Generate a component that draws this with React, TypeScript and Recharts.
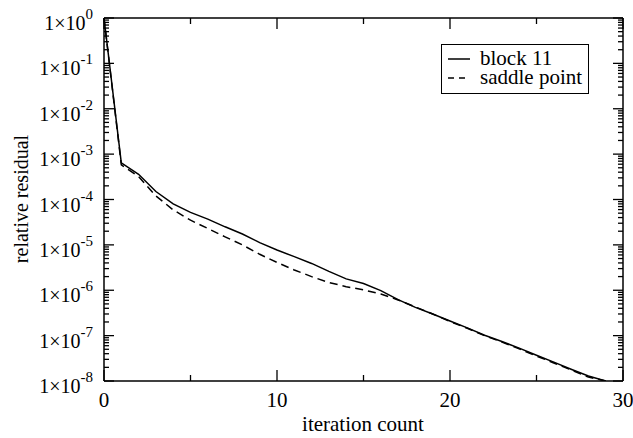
import React from 'react';
import { LineChart, Line, XAxis, YAxis, Legend } from 'recharts';

// residual history
const ITERATIONS = [0, 1, 2, 3, 4, 5, 6, 7, 8, 9, 10, 11, 12, 13, 14, 15, 16, 17, 18, 19, 20, 21, 22, 23, 24, 25, 26, 27, 28, 29];
const BLOCK_11 = [
  1, 6.4e-4, 3.6e-4, 1.5e-4, 8e-5, 5.2e-5, 3.7e-5, 2.5e-5, 1.74e-5, 1.12e-5,
  7.7e-6, 5.5e-6, 3.9e-6, 2.6e-6, 1.78e-6, 1.41e-6, 9.8e-7, 6.2e-7, 4.2e-7, 3e-7,
  2.1e-7, 1.48e-7, 1.02e-7, 7.4e-8, 5.3e-8, 3.7e-8, 2.6e-8, 1.82e-8, 1.29e-8, 1e-8,
];
const SADDLE_POINT = [
  1, 5.8e-4, 3.2e-4, 1.2e-4, 5.9e-5, 3.5e-5, 2.3e-5, 1.5e-5, 1.0e-5, 6.2e-6,
  4.1e-6, 2.8e-6, 2.0e-6, 1.48e-6, 1.2e-6, 1.02e-6, 8.3e-7, 6.1e-7, 4.3e-7, 3e-7,
  2.05e-7, 1.45e-7, 1e-7, 7.2e-8, 5.1e-8, 3.55e-8, 2.5e-8, 1.75e-8, 1.22e-8, 1e-8,
];

const X_TICKS = [0, 5, 10, 15, 20, 25, 30];
const X_LABELS = [0, 10, 20, 30];
const Y_DECADES = [1e-8, 1e-7, 1e-6, 1e-5, 1e-4, 1e-3, 1e-2, 1e-1, 1];
const MINOR_STEPS = [2, 3, 4, 5, 6, 7, 8, 9];

const SERIES = [
  { key: 'block11', name: 'block 11', dash: undefined as string | undefined },
  { key: 'saddle', name: 'saddle point', dash: '8 5' },
];

const FONT = "'Liberation Serif', 'Times New Roman', serif";
const TICK_W = 1.3;
const TICK_COLOR = '#000';

const data = ITERATIONS.map((it, i) => ({
  iter: it,
  block11: BLOCK_11[i],
  saddle: SADDLE_POINT[i],
}));

// major decades plus the 2..9 minor ticks in between
const Y_TICKS = [
  ...Y_DECADES.slice(0, -1).flatMap(d => [d, ...MINOR_STEPS.map(m => m * d)]),
  Y_DECADES[Y_DECADES.length - 1],
];

const isDecade = (v: number) => Math.abs(Math.log10(v) - Math.round(Math.log10(v))) < 1e-6;

function LeftTick(props: any) {
  const x = Number(props.x);
  const y = Number(props.y);
  const v = props.payload.value;
  const major = isDecade(v);
  const exp = Math.round(Math.log10(v));
  return (
    <g>
      <path d={`M${x},${y}h${major ? 10 : 5}`} stroke={TICK_COLOR} strokeWidth={TICK_W} fill="none" />
      {major && (
        <text x={x - 11} y={y + 12} textAnchor="end" fontFamily={FONT} fontSize={20} fill="#000">
          1×10
          <tspan dy={-11} fontSize={15}>{String(exp)}</tspan>
        </text>
      )}
    </g>
  );
}

function RightTick(props: any) {
  const x = Number(props.x);
  const y = Number(props.y);
  const major = isDecade(props.payload.value);
  return <path d={`M${x},${y}h${major ? -10 : -5}`} stroke={TICK_COLOR} strokeWidth={TICK_W} fill="none" />;
}

function BottomTick(props: any) {
  const x = Number(props.x);
  const y = Number(props.y);
  const major = X_LABELS.includes(props.payload.value);
  return (
    <g>
      <path d={`M${x},${y}v${major ? -11 : -6}`} stroke={TICK_COLOR} strokeWidth={TICK_W} fill="none" />
      {major && (
        <text x={x} y={y + 26} textAnchor="middle" fontFamily={FONT} fontSize={21} fill="#000">
          {props.payload.value}
        </text>
      )}
    </g>
  );
}

function TopTick(props: any) {
  const x = Number(props.x);
  const y = Number(props.y);
  const major = X_LABELS.includes(props.payload.value);
  return <path d={`M${x},${y}v${major ? 11 : 6}`} stroke={TICK_COLOR} strokeWidth={TICK_W} fill="none" />;
}

function LegendBox({ payload }: any) {
  return (
    <div
      style={{
        boxSizing: 'border-box',
        width: 148,
        height: 50,
        border: '1px solid #000',
        background: '#fff',
        padding: '4px 0 0 6px',
        fontFamily: FONT,
        fontSize: 21,
        lineHeight: '19px',
        color: '#000',
      }}
    >
      {(payload || []).map((entry: any) => {
        const s = SERIES.find(d => d.key === entry.dataKey);
        return (
          <div key={entry.dataKey} style={{ display: 'flex', alignItems: 'center', whiteSpace: 'nowrap', height: 19 }}>
            <svg width={22} height={19} style={{ flexShrink: 0 }}>
              <line x1={0} x2={22} y1={10} y2={10} stroke="#000" strokeWidth={1.5} strokeDasharray={s?.dash ? '6 5' : undefined} />
            </svg>
            <span style={{ marginLeft: 10 }}>{entry.value}</span>
          </div>
        );
      })}
    </div>
  );
}

export default function App() {
  return (
    <div style={{ position: 'absolute', left: 0, top: 0, width: 633, height: 438, background: '#fff' }}>
      <LineChart width={633} height={438} data={data} margin={{ top: 17, right: 9, bottom: 0, left: 0 }}>
        <XAxis
          dataKey="iter"
          type="number"
          domain={[0, 30]}
          ticks={X_TICKS}
          interval={0}
          tickSize={0}
          tickMargin={0}
          tickLine={false}
          tick={<BottomTick />}
          height={57}
          axisLine={{ stroke: '#000', strokeWidth: 1.5 }}
        />
        <XAxis
          xAxisId="top"
          orientation="top"
          dataKey="iter"
          type="number"
          domain={[0, 30]}
          ticks={X_TICKS}
          interval={0}
          tickSize={0}
          tickMargin={0}
          tickLine={false}
          tick={<TopTick />}
          height={1}
          axisLine={{ stroke: '#000', strokeWidth: 1.5 }}
        />
        <YAxis
          type="number"
          scale="log"
          domain={[1e-8, 1]}
          allowDataOverflow
          ticks={Y_TICKS}
          interval={0}
          tickSize={0}
          tickMargin={0}
          tickLine={false}
          tick={<LeftTick />}
          width={104}
          axisLine={{ stroke: '#000', strokeWidth: 1.5 }}
        />
        <YAxis
          yAxisId="right"
          orientation="right"
          type="number"
          scale="log"
          domain={[1e-8, 1]}
          allowDataOverflow
          ticks={Y_TICKS}
          interval={0}
          tickSize={0}
          tickMargin={0}
          tickLine={false}
          tick={<RightTick />}
          width={1}
          axisLine={{ stroke: '#000', strokeWidth: 1.5 }}
        />
        {SERIES.map(s => (
          <Line
            key={s.key}
            dataKey={s.key}
            name={s.name}
            type="linear"
            stroke="#000"
            strokeWidth={1.5}
            strokeDasharray={s.dash}
            dot={false}
            activeDot={false}
            isAnimationActive={false}
          />
        ))}
        <Legend
          layout="vertical"
          align="center"
          verticalAlign="middle"
          content={<LegendBox />}
          wrapperStyle={{ left: 441, top: 44, width: 148, height: 50 }}
        />
        <text x={363} y={431} textAnchor="middle" fontFamily={FONT} fontSize={21} fill="#000">
          iteration count
        </text>
        <text
          x={28}
          y={199}
          transform="rotate(-90 28 199)"
          textAnchor="middle"
          fontFamily={FONT}
          fontSize={20}
          fill="#000"
        >
          relative residual
        </text>
      </LineChart>
    </div>
  );
}
